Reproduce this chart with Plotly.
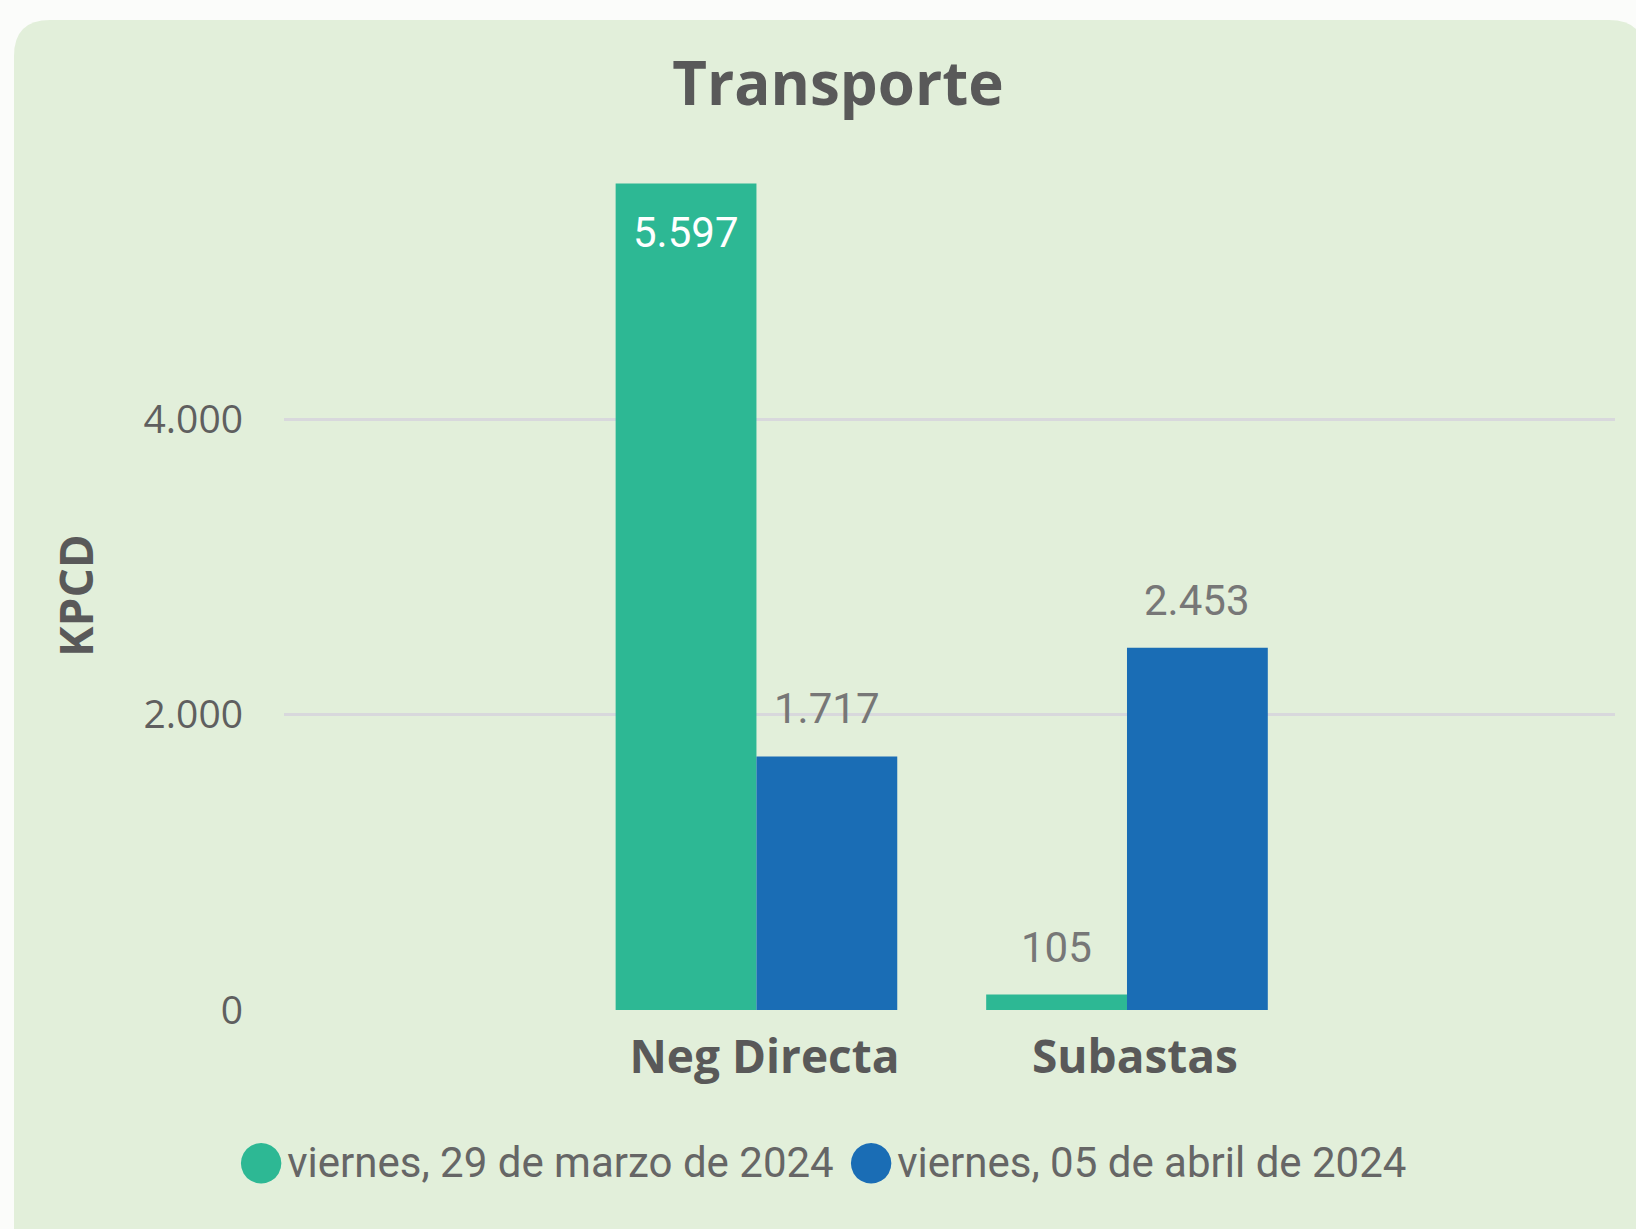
import plotly.graph_objects as go

# ---- data ----
categories = ["Neg Directa", "Subastas"]
series_names = ["viernes, 29 de marzo de 2024", "viernes, 05 de abril de 2024"]
values_mar29 = [5597, 105]
values_abr05 = [1717, 2453]
y_tick_vals = [0, 2000, 4000]
y_tick_text = ["0", "2.000", "4.000"]
title_text = "Transporte"
y_title = "KPCD"

# ---- style ----
colors = ["#2DB894", "#1A6DB5"]
label_pos = [["inside", "outside"], ["outside", "outside"]]
W, H = 1636, 1229
ML, MR, MT, MB = 284, 21, 124, 219
PW, PH = W - ML - MR, H - MT - MB
bar_w = 0.38
offsets = [-bar_w, 0.0]
card_bg = "#E2EFDA"
page_bg = "#FBFCFA"
txt_dark = "#595959"


def fmt(v):
    return f"{v:,}".replace(",", ".")


def px(xp):
    return (xp - ML) / PW


def py(yp):
    return (H - MB - yp) / PH


x_pos = list(range(len(categories)))
series_vals = [values_mar29, values_abr05]

fig = go.Figure()
for si, vals in enumerate(series_vals):
    fig.add_trace(go.Bar(
        x=x_pos, y=vals, width=bar_w, offset=offsets[si],
        marker=dict(color=colors[si], line=dict(width=0)),
        name=series_names[si], showlegend=False, hoverinfo="y",
    ))

# legend entries with large round markers
for si, name in enumerate(series_names):
    fig.add_trace(go.Scatter(
        x=[None], y=[None], mode="markers",
        marker=dict(color="rgba(0,0,0,0)", size=1),
        name=(f"<span style=\"font-family:'DejaVu Sans';font-size:53px;color:{colors[si]}\">●</span>"
              f"<span style=\"font-size:12px\"> </span>{name}"),
        hoverinfo="skip",
    ))

annotations = []
for si, vals in enumerate(series_vals):
    for ci, v in enumerate(vals):
        inside = label_pos[si][ci] == "inside"
        annotations.append(dict(
            x=x_pos[ci] + offsets[si] + bar_w / 2, y=v, xref="x", yref="y",
            text=fmt(v), showarrow=False,
            yanchor="top" if inside else "bottom",
            yshift=-22 if inside else 21,
            font=dict(family="Roboto", size=42, color="white" if inside else "#777777"),
        ))

annotations.append(dict(
    x=px(75), y=py(596), xref="paper", yref="paper", text=y_title,
    textangle=-90, showarrow=False, xanchor="center", yanchor="middle",
    font=dict(family="Open Sans", size=46, color=txt_dark, weight="bold"),
))

R = 36
card_path = (
    f"M {px(14)},{py(1300)} L {px(14)},{py(20 + R)} "
    f"Q {px(14)},{py(20)} {px(14 + R)},{py(20)} "
    f"L {px(1645 - R)},{py(20)} Q {px(1645)},{py(20)} {px(1645)},{py(20 + R)} "
    f"L {px(1645)},{py(1300)} Z"
)

fig.update_layout(
    width=W, height=H,
    margin=dict(l=ML, r=MR, t=MT, b=MB, autoexpand=False),
    paper_bgcolor=page_bg, plot_bgcolor="rgba(0,0,0,0)",
    separators=",.",
    title=dict(text=title_text, x=838 / W, xref="container", xanchor="center",
               y=1 - 84 / H, yref="container", yanchor="middle",
               font=dict(family="Open Sans", size=60, color=txt_dark, weight="bold")),
    shapes=[dict(type="path", path=card_path, xref="paper", yref="paper",
                 fillcolor=card_bg, line=dict(width=0), layer="below")],
    annotations=annotations,
    showlegend=True,
    legend=dict(orientation="h", xref="container", yref="container",
                x=198 / W, xanchor="left", y=1 - 1161 / H, yanchor="middle",
                font=dict(family="Roboto", size=42, color="#666666"),
                bgcolor="rgba(0,0,0,0)", itemwidth=30,
                entrywidth=565, entrywidthmode="pixels"),
    xaxis=dict(tickmode="array", tickvals=x_pos, ticktext=categories,
               range=[-1.275, 2.317], showgrid=False, zeroline=False, showline=False,
               ticks="", ticklabelstandoff=16, ticklabelshift=8, automargin=False,
               tickfont=dict(family="Open Sans", size=46, color=txt_dark, weight="bold")),
    yaxis=dict(tickmode="array", tickvals=y_tick_vals, ticktext=y_tick_text,
               range=[0, 6000], showgrid=True, gridcolor="#D8D8DC", gridwidth=3,
               zeroline=False, showline=False, ticks="", ticklabelstandoff=40,
               automargin=False,
               tickfont=dict(family="Open Sans", size=39, color="#5F5F5F")),
)

fig.write_html("out.html")
